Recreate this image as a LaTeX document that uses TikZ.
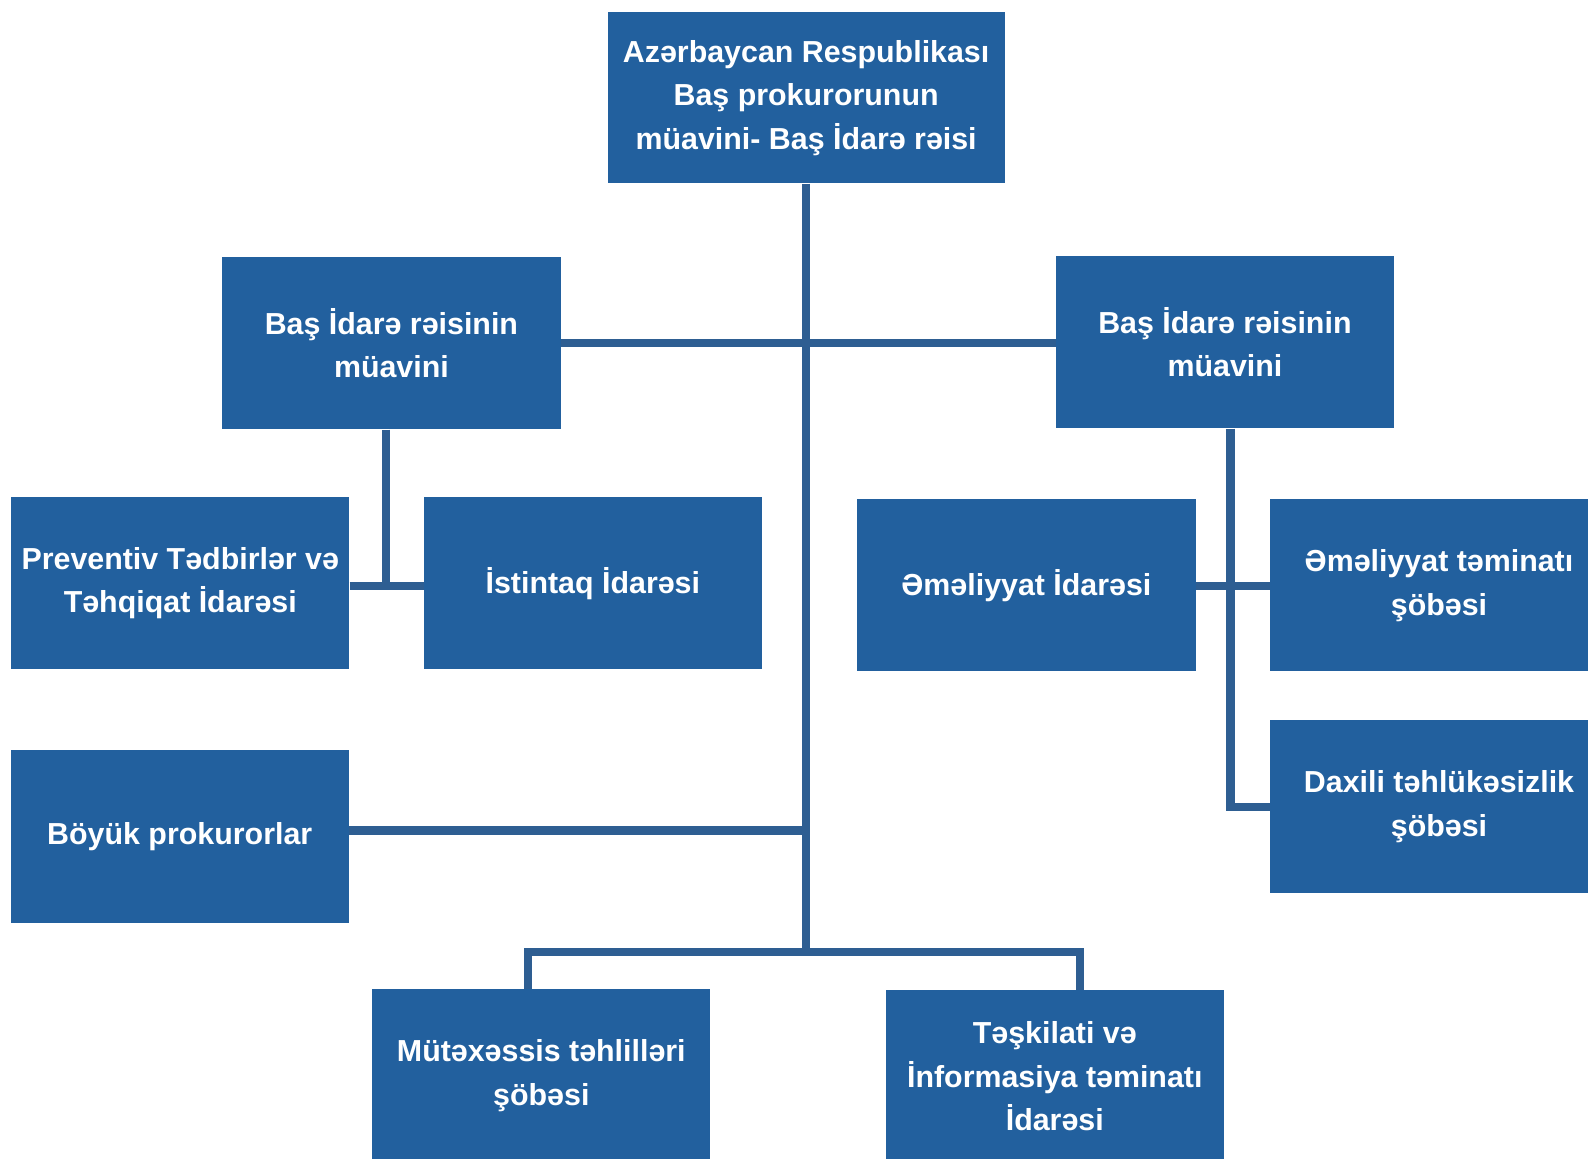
\documentclass[tikz,border=0pt]{standalone}
\usepackage{fontspec}
\setmainfont{Liberation Sans}
\usepackage{tikz}
\usetikzlibrary{positioning}

\definecolor{boxblue}{RGB}{34,96,158}
\definecolor{lineblue}{RGB}{46,94,146}

\begin{document}
\begin{tikzpicture}[x=1pt,y=-1pt,
	unit/.style={rectangle,fill=boxblue,text=white,align=center,inner sep=0pt,
		minimum width=334pt,minimum height=170pt,
		font=\fontsize{30}{43}\selectfont\bfseries},
	link/.style={draw=lineblue,line width=8pt}]
	\clip (0,0) rectangle (1568,1144);
	\node[unit,minimum width=392pt,minimum height=169pt] (chief) at (796,96.5)
		{Azərbaycan Respublikası\\Baş prokurorunun\\müavini- Baş İdarə rəisi};
	\node[unit] (depL) at (386.5,339) {Baş İdarə rəisinin\\müavini};
	\node[unit] (depR) at (1209.5,338) {Baş İdarə rəisinin\\müavini};
	\node[unit] (prev) at (178,576) {Preventiv Tədbirlər və\\Təhqiqat İdarəsi};
	\node[unit] (ist) [right=73pt of prev] {İstintaq İdarəsi};
	\node[unit] (eml) at (1013.5,578) {Əməliyyat İdarəsi};
	\node[unit] (emlt) [right=73pt of eml] {Əməliyyat təminatı\\şöbəsi};
	\node[unit] (dax) [below=48pt of emlt] {Daxili təhlükəsizlik\\şöbəsi};
	\node[unit] (boyuk) at (177.5,826) {Böyük prokurorlar};
	\node[unit] (mut) at (534.5,1062) {Mütəxəssis təhlilləri\\şöbəsi};
	\node[unit] (tes) at (1041.5,1063) {Təşkilati və\\İnformasiya təminatı\\İdarəsi};

	\coordinate (trunk) at (797,940);
	\coordinate (jl) at (381,579);
	\coordinate (jr) at (1215,797);
	\coordinate (bl) at (521,940);
	\coordinate (br) at (1066,940);

	\path[link]
	(chief.south) -- (chief.south |- trunk)
	(depL.east) -- (depL.east -| depR.west)
	(depL.south -| jl) -- (jl)
	(prev.east |- jl) -- (ist.west |- jl)
	(depR.south -| jr) -- (jr) -- (dax.west |- jr)
	(eml.east |- jl) -- (emlt.west |- jl)
	([yshift=6pt]boyuk.east) -- ([yshift=6pt]boyuk.east -| trunk)
	(mut.north -| bl) -- (bl) -- (br) -- (tes.north -| br);
\end{tikzpicture}
\end{document}
